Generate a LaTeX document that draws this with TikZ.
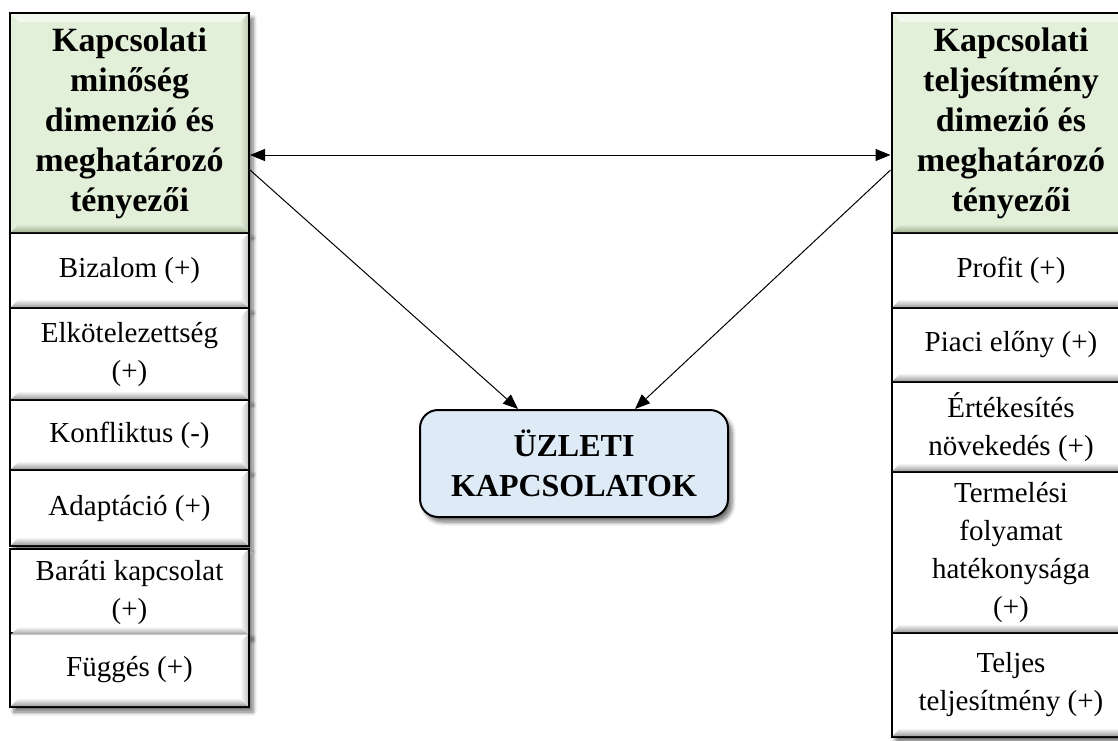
\documentclass[tikz,border=0pt]{standalone}
\usepackage{fontspec}
\setmainfont{Liberation Serif}
\usetikzlibrary{arrows.meta,shadows.blur}

\definecolor{headgreen}{HTML}{E2EFD9}
\definecolor{headdark}{HTML}{A3B396}
\definecolor{headlight}{HTML}{F1F8ED}
\definecolor{itemdark}{HTML}{9E9E9E}
\definecolor{mainblue}{HTML}{DEEAF6}

\begin{document}
\begin{tikzpicture}
		[x=1pt,y=-1pt,
		boxshadow/.style ={blur shadow={shadow xshift=4pt,shadow yshift=-5pt,shadow blur steps=6,shadow blur radius=4pt,shadow opacity=55}},
		head/.style ={rectangle, draw=black, line width=2pt, fill=headgreen, minimum width=239pt, minimum height=220pt, align=center, font=\fontsize{34}{40}\selectfont\bfseries, boxshadow},
		item/.style ={rectangle, draw=black, line width=2pt, fill=white, minimum width=239pt, align=center, font=\fontsize{29}{38}\selectfont, boxshadow},
		core/.style ={rectangle, rounded corners=18pt, draw=black, line width=2pt, fill=mainblue, minimum width=308pt, minimum height=107pt, align=center, font=\fontsize{32}{40}\selectfont\bfseries, boxshadow},
		line/.style ={draw, line width=1pt, -{Triangle[length=15pt,width=12pt]}},
		biline/.style ={line, {Triangle[length=15pt,width=12pt]}-{Triangle[length=15pt,width=12pt]}},
		]
		\useasboundingbox (0,0) rectangle (1118,740);

		% left column: quality
		\draw (129.5,123) node[head] (qhead) {Kapcsolati\\minőség\\dimenzió és\\meghatározó\\tényezői};
		\draw (129.5,270.5) node[item, minimum height=75pt] (q1) {Bizalom (+)};
		\draw (129.5,354) node[item, minimum height=92pt] (q2) {Elkötelezettség\\(+)};
		\draw (129.5,435) node[item, minimum height=70pt] (q3) {Konfliktus (-)};
		\draw (129.5,508) node[item, minimum height=76pt] (q4) {Adaptáció (+)};
		\draw (129.5,592) node[item, minimum height=87pt] (q5) {Baráti kapcsolat\\(+)};
		\draw (129.5,670) node[item, minimum height=74pt] (q6) {Függés (+)};

		% right column: performance
		\draw (1011,123) node[head] (phead) {Kapcsolati\\teljesítmény\\dimezió és\\meghatározó\\tényezői};
		\draw (1011,270.5) node[item, minimum height=75pt] (p1) {Profit (+)};
		\draw (1011,345) node[item, minimum height=74pt] (p2) {Piaci előny (+)};
		\draw (1011,427) node[item, minimum height=90pt] (p3) {Értékesítés\\növekedés (+)};
		\draw (1011,552.5) node[item, minimum height=161pt] (p4) {Termelési\\folyamat\\hatékonysága\\(+)};
		\draw (1011,685) node[item, minimum height=104pt] (p5) {Teljes\\teljesítmény (+)};

		% bevels
		\foreach \n in {qhead,phead} {
			\fill[headlight] ([shift={(2pt,-2pt)}]\n.north west) -- ([shift={(-2pt,-2pt)}]\n.north east) -- ([shift={(-10pt,-10pt)}]\n.north east) -- ([shift={(10pt,-10pt)}]\n.north west) -- cycle;
			\shade[top color=headgreen, bottom color=headdark] ([shift={(2pt,2pt)}]\n.south west) -- ([shift={(-2pt,2pt)}]\n.south east) -- ([shift={(-10pt,10pt)}]\n.south east) -- ([shift={(10pt,10pt)}]\n.south west) -- cycle;
			\shade[left color=headgreen, right color=headdark!70] ([shift={(-2pt,2pt)}]\n.south east) -- ([shift={(-2pt,-2pt)}]\n.north east) -- ([shift={(-10pt,-10pt)}]\n.north east) -- ([shift={(-10pt,10pt)}]\n.south east) -- cycle;
		}
		\foreach \n in {q1,q2,q3,q4,q5,q6,p1,p2,p3,p4,p5} {
			\shade[top color=white, bottom color=itemdark] ([shift={(2pt,2pt)}]\n.south west) -- ([shift={(-2pt,2pt)}]\n.south east) -- ([shift={(-10pt,10pt)}]\n.south east) -- ([shift={(10pt,10pt)}]\n.south west) -- cycle;
			\shade[left color=white, right color=itemdark!60] ([shift={(-2pt,2pt)}]\n.south east) -- ([shift={(-2pt,-2pt)}]\n.north east) -- ([shift={(-10pt,-10pt)}]\n.north east) -- ([shift={(-10pt,10pt)}]\n.south east) -- cycle;
		}

		% centre
		\draw (574,463.5) node[core] (core) {ÜZLETI\\KAPCSOLATOK};

		\draw[biline] ([yshift=-32pt]qhead.east) -- ([yshift=-32pt]phead.west);
		\draw[line] ([yshift=-47pt]qhead.east) -- ([xshift=-56pt]core.north);
		\draw[line] ([yshift=-47pt]phead.west) -- ([xshift=61pt]core.north);

	\end{tikzpicture}
\end{document}
